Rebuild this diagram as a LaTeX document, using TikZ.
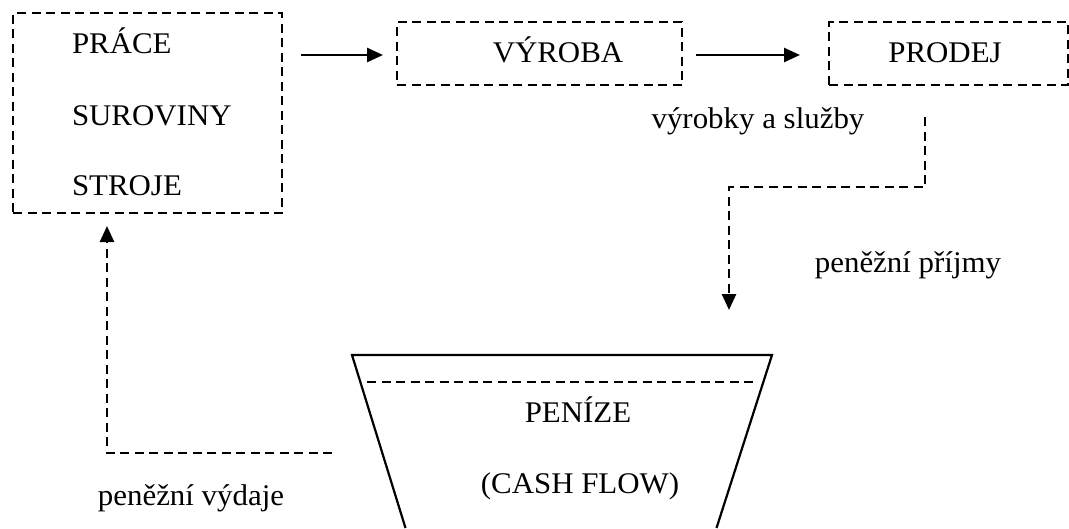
\documentclass[tikz,border=0pt]{standalone}
\usepackage{fontspec}
\setmainfont{Liberation Serif}[FakeStretch=1.03]
\usetikzlibrary{arrows.meta}

\begin{document}
\begin{tikzpicture}[x=1pt, y=-1pt,
  dashline/.style={line width=2.6pt, dash pattern=on 9pt off 5.5pt},
  stagebox/.style={draw, dashline, inner sep=0pt, outer sep=0pt},
  txt/.style={inner sep=0pt, outer sep=0pt, font=\fontsize{30}{36}\selectfont},
  tiphead/.style={-{Triangle[length=16pt,width=14pt]}},
  solidarrow/.style={line width=2.6pt, tiphead},
  flowarrow/.style={dashline, tiphead},
  funnel/.style={line width=2.2pt, line join=miter},
]
\useasboundingbox (0,0) rectangle (1069,528);

% inputs
\node[stagebox, minimum width=269pt, minimum height=200pt] (inputs) at (147.5,113) {};
\node[txt, anchor=base west] (prace) at (72,53) {PRÁCE};
\node[txt, anchor=base west] (suroviny) at (72,125) {SUROVINY};
\node[txt, anchor=base west] (stroje) at (72,195) {STROJE};

% production
\node[stagebox, minimum width=285pt, minimum height=63pt] (vyroba) at (539.5,53.5) {};
\node[txt, anchor=base] (vyrobatxt) at (558,62) {VÝROBA};

% sales
\node[stagebox, minimum width=239pt, minimum height=63pt] (prodej) at (948.5,53.5) {};
\node[txt, anchor=base] (prodejtxt) at (945,62) {PRODEJ};

\node[txt, anchor=base] (goods) at (758,128) {výrobky a služby};
\node[txt, anchor=base] (income) at (908,272) {peněžní příjmy};
\node[txt, anchor=base] (spend) at (191,505) {peněžní výdaje};

% money funnel
\coordinate (fTL) at (352,355);
\coordinate (fTR) at (772,355);
\coordinate (fBL) at (405.5,528);
\coordinate (fBR) at (716.5,528);
\draw[funnel] (fBL) -- (fTL) -- (fTR) -- (fBR);
\draw[dashline] (367,382) -- (753,382);
\node[txt, anchor=base] (penize) at (578,422) {PENÍZE};
\node[txt, anchor=base] (cashflow) at (580,493) {(CASH FLOW)};

% solid arrows between stages
\draw[solidarrow] ([xshift=19pt,yshift=-1.5pt]inputs.east |- vyroba.west) -- ([xshift=-14pt,yshift=-1.5pt]vyroba.west);
\draw[solidarrow] ([xshift=14pt,yshift=-1.5pt]vyroba.east) -- ([xshift=-29pt,yshift=-1.5pt]prodej.west);

% money coming in
\coordinate (salesout) at (925,117);
\coordinate (incometip) at (729,310);
\draw[flowarrow] (salesout) -- ++(0,70) -| (incometip);

% money going out
\coordinate (spendout) at (332,453);
\coordinate (spendtip) at (107,226);
\draw[flowarrow] (spendout) -| (spendtip);
\end{tikzpicture}
\end{document}
